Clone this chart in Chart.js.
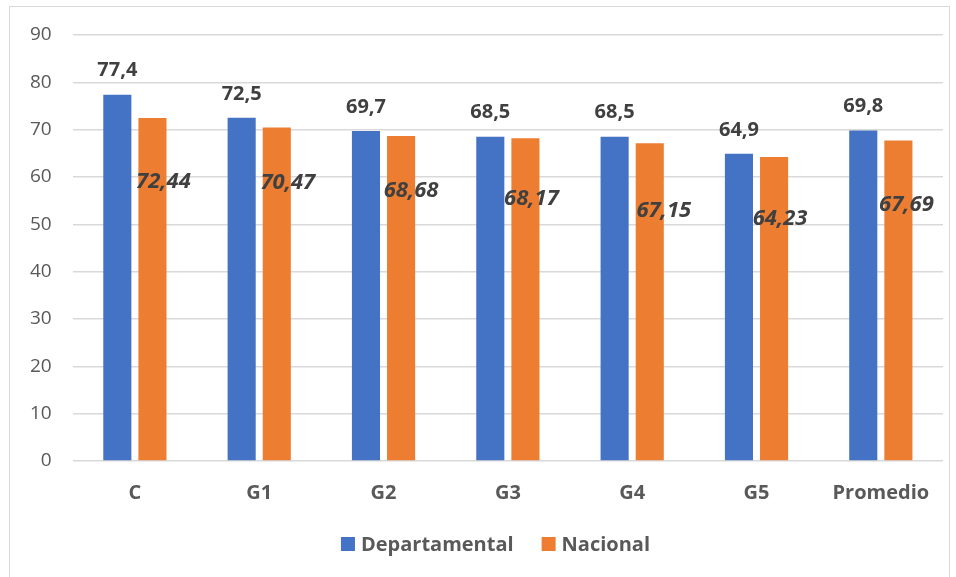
<!DOCTYPE html>
<html lang="es">
<head>
<meta charset="utf-8">
<script src="https://cdn.jsdelivr.net/npm/chart.js@4"></script>
<style>
  body { margin: 0; background: #fff; }
  #marco {
    position: absolute; left: 9px; top: 6px;
    width: 939px; height: 570px;
    border: 1px solid #d9d9d9;
  }
</style>
</head>
<body>
<div id="marco"><canvas id="grafico"></canvas></div>
<script>
const categorias = ['C', 'G1', 'G2', 'G3', 'G4', 'G5', 'Promedio'];
const departamental = [77.4, 72.5, 69.7, 68.5, 68.5, 64.9, 69.8];
const nacional = [72.44, 70.47, 68.68, 68.17, 67.15, 64.23, 67.69];
const ticksY = [0, 10, 20, 30, 40, 50, 60, 70, 80, 90];
const series = ['Departamental', 'Nacional'];
const colores = ['#4472C4', '#ED7D31'];

// desplazamiento manual de las etiquetas de Nacional (como en Excel)
const despX = [11, 11, 10, 6, 14, 6, 8];
const despY = [64, 55, 55, 60, 68, 62, 64];

const fuente = '"Open Sans", "DejaVu Sans", sans-serif';
const coma = (v, d) => v.toFixed(d).replace('.', ',');

const etiquetas = {
  id: 'etiquetas',
  afterDatasetsDraw(chart) {
    const ctx = chart.ctx;
    ctx.save();
    ctx.fillStyle = '#404040';
    ctx.textAlign = 'center';
    ctx.textBaseline = 'middle';

    ctx.font = 'bold 20px ' + fuente;
    chart.getDatasetMeta(0).data.forEach((barra, i) => {
      ctx.fillText(coma(departamental[i], 1), barra.x, barra.y - 24);
    });

    ctx.font = 'italic bold 22px ' + fuente;
    chart.getDatasetMeta(1).data.forEach((barra, i) => {
      ctx.fillText(coma(nacional[i], 2), barra.x + despX[i], barra.y + despY[i]);
    });
    ctx.restore();
  },
  // leyenda dibujada a mano para controlar separaciones
  afterDraw(chart) {
    const ctx = chart.ctx;
    ctx.save();
    ctx.font = 'bold 20px ' + fuente;
    ctx.textBaseline = 'middle';
    const caja = 14, hueco = 6, entre = 28;
    const anchos = series.map(s => ctx.measureText(s).width);
    const total = anchos.reduce((a, w) => a + caja + hueco + w, 0) + entre * (series.length - 1);
    let x = chart.width / 2 + 16 - total / 2;
    const y = chart.height - 33;
    series.forEach((s, i) => {
      ctx.fillStyle = colores[i];
      ctx.fillRect(x, y - caja / 2, caja, caja);
      ctx.fillStyle = '#595959';
      ctx.fillText(s, x + caja + hueco, y + 1);
      x += caja + hueco + anchos[i] + entre;
    });
    ctx.restore();
  }
};

new Chart(document.getElementById('grafico'), {
  type: 'bar',
  data: {
    labels: categorias,
    datasets: series.map((s, i) => ({
      label: s,
      data: i === 0 ? departamental : nacional,
      backgroundColor: colores[i],
      categoryPercentage: 0.565,
      barPercentage: 0.8
    }))
  },
  options: {
    responsive: true,
    maintainAspectRatio: false,
    animation: false,
    layout: { padding: { left: 17, right: 6, top: 28, bottom: 60 } },
    scales: {
      x: {
        grid: { display: false },
        border: { display: false },
        ticks: {
          color: '#595959',
          padding: 12,
          font: { family: fuente, size: 20, weight: 'bold' }
        }
      },
      y: {
        min: 0,
        max: 90,
        afterBuildTicks: (eje) => { eje.ticks = ticksY.map(v => ({ value: v })); },
        grid: {
          color: '#d9d9d9',
          lineWidth: 1.5,
          drawTicks: true,
          tickLength: 18,
          tickColor: 'rgba(0,0,0,0)'
        },
        border: { display: false },
        ticks: {
          color: '#595959',
          padding: 3,
          font: { family: fuente, size: 19 }
        }
      }
    },
    plugins: {
      legend: { display: false },
      tooltip: { enabled: false }
    }
  },
  plugins: [etiquetas]
});
</script>
</body>
</html>
